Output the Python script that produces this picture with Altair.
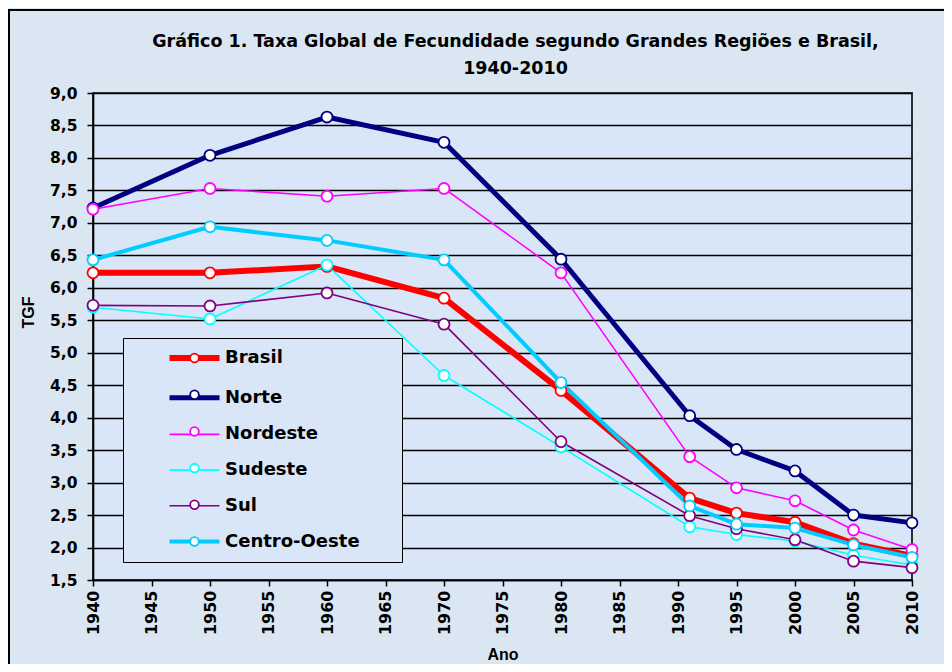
import altair as alt
import pandas as pd

# ---------------- data ----------------
years = [1940, 1950, 1960, 1970, 1980, 1991, 1995, 2000, 2005, 2010]
series = ["Brasil", "Norte", "Nordeste", "Sudeste", "Sul", "Centro-Oeste"]

brasil = [6.23, 6.23, 6.33, 5.84, 4.42, 2.76, 2.53, 2.39, 2.06, 1.87]
norte = [7.23, 8.04, 8.63, 8.24, 6.44, 4.03, 3.51, 3.18, 2.50, 2.38]
nordeste = [7.21, 7.53, 7.41, 7.53, 6.23, 3.40, 2.92, 2.72, 2.27, 1.97]
sudeste = [5.70, 5.52, 6.35, 4.65, 3.55, 2.32, 2.20, 2.10, 1.88, 1.73]
sul = [5.73, 5.72, 5.92, 5.44, 3.63, 2.49, 2.29, 2.12, 1.79, 1.69]
centro_oeste = [6.43, 6.94, 6.73, 6.43, 4.54, 2.64, 2.36, 2.30, 2.04, 1.85]

x_ticks = [1940, 1945, 1950, 1955, 1960, 1965, 1970, 1975, 1980, 1985,
           1990, 1995, 2000, 2005, 2010]
y_ticks = [1.5, 2.0, 2.5, 3.0, 3.5, 4.0, 4.5, 5.0, 5.5, 6.0, 6.5, 7.0,
           7.5, 8.0, 8.5, 9.0]

colors = ["#ff0000", "#000080", "#ff00ff", "#00ffff", "#800080", "#00ccff"]
widths = [6, 5, 1.6, 1.6, 1.6, 4]

title_lines = ["Gráfico 1. Taxa Global de Fecundidade segundo Grandes Regiões e Brasil,",
               "1940-2010"]

values = {"Brasil": brasil, "Norte": norte, "Nordeste": nordeste,
          "Sudeste": sudeste, "Sul": sul, "Centro-Oeste": centro_oeste}

rows = []
for k, s in enumerate(series):
    for yr, v in zip(years, values[s]):
        rows.append({"ano": yr, "tgf": v, "serie": s, "serie_m": s + " ", "ordem": k})
df = pd.DataFrame(rows)

FONT = "DejaVu Sans"
FONT_AX = "Liberation Sans"
PLOT_FILL = "#d8e6f8"
W, H = 819, 487

# trailing blank space (closed by a zero-width char so it is not trimmed)
PAD = "\u00a0" * 5 + "\u200b"
legend_common = dict(
    orient="none", legendX=30, legendY=245, padding=11,
    symbolOffset=51.5, labelOffset=21.5, labelFont=FONT, labelFontSize=18,
    labelFontWeight="bold", labelColor="black", labelLimit=600, title=None,
)

legend_lines = alt.Legend(
    symbolType="M-5,0L5,0", symbolSize=100, rowPadding=17.7,
    fillColor=PLOT_FILL, strokeColor="black",
    labelExpr="datum.label + '" + PAD + "'",
    **legend_common,
)
legend_marks = alt.Legend(
    symbolType="circle", symbolSize=75, symbolStrokeWidth=1.8, rowPadding=18.7,
    symbolFillColor="white", labelOpacity=0,
    **legend_common,
)

x_enc = alt.X(
    "ano:Q",
    scale=alt.Scale(domain=[1940, 2010], nice=False),
    axis=alt.Axis(
        values=x_ticks, format="d", labelAngle=270, title="Ano",
        grid=False, tickSize=6, labelPadding=4, labelOverlap=False,
        labelFontSize=16,
        titleY=74, titleBaseline="middle",
    ),
)
y_enc = alt.Y(
    "tgf:Q",
    scale=alt.Scale(domain=[1.5, 9.0], nice=False, zero=False),
    axis=alt.Axis(
        values=y_ticks, labelExpr="replace(format(datum.value, '.1f'), '.', ',')",
        title="TGF", grid=True, gridColor="black", gridWidth=1.6,
        tickSize=6, labelPadding=10, labelOverlap=False, labelFontSize=15.5,
        titleX=-65, titleY=219, titleAngle=270, titleAlign="center",
        titleBaseline="middle",
    ),
)

lines = alt.Chart(df).mark_line(strokeJoin="round").encode(
    x=x_enc,
    y=y_enc,
    color=alt.Color("serie:N", scale=alt.Scale(domain=series, range=colors),
                    legend=legend_lines),
    strokeWidth=alt.StrokeWidth("serie:N",
                                scale=alt.Scale(type="ordinal", domain=series, range=widths),
                                legend=legend_lines),
    detail="serie:N",
)

points = alt.Chart(df).mark_point(
    filled=True, fill="white", size=120, strokeWidth=1.8, opacity=1
).encode(
    x=x_enc,
    y=y_enc,
    stroke=alt.Stroke("serie_m:N",
                      scale=alt.Scale(domain=[s + " " for s in series], range=colors),
                      legend=legend_marks),
    order="ordem:Q",
)

frame_df = pd.DataFrame({"k": [0]})
frame_top = alt.Chart(frame_df).mark_rule(color="black", strokeWidth=2).encode(
    x=alt.value(-85), x2=alt.value(W + 32), y=alt.value(-83)
)
frame_left = alt.Chart(frame_df).mark_rule(color="black", strokeWidth=2).encode(
    x=alt.value(-84), y=alt.value(-83), y2=alt.value(H + 84)
)

chart = alt.layer(lines, points, frame_top, frame_left).properties(
    width=W, height=H,
    autosize=alt.AutoSizeParams(type="none"),
    padding={"left": 85, "top": 85, "right": 32, "bottom": 84},
    title=alt.TitleParams(
        text=title_lines, font=FONT, fontSize=17.5, fontWeight="bold",
        color="black", anchor="middle", frame="group", offset=14,
        lineHeight=26.5, dx=13, dy=82,
    ),
).configure(
    background="#dae6f2",
).configure_view(
    fill=PLOT_FILL, stroke="black", strokeWidth=1.6,
).configure_axis(
    labelFont=FONT, labelFontSize=16, labelFontWeight="bold", labelColor="black",
    labelOverlap=False,
    titleFont=FONT_AX, titleFontSize=16, titleFontWeight="bold", titleColor="black",
    domainColor="black", domainWidth=1.6, tickColor="black", tickWidth=1.5,
)

chart.save("out.html", embed_options={"renderer": "svg", "actions": False})
